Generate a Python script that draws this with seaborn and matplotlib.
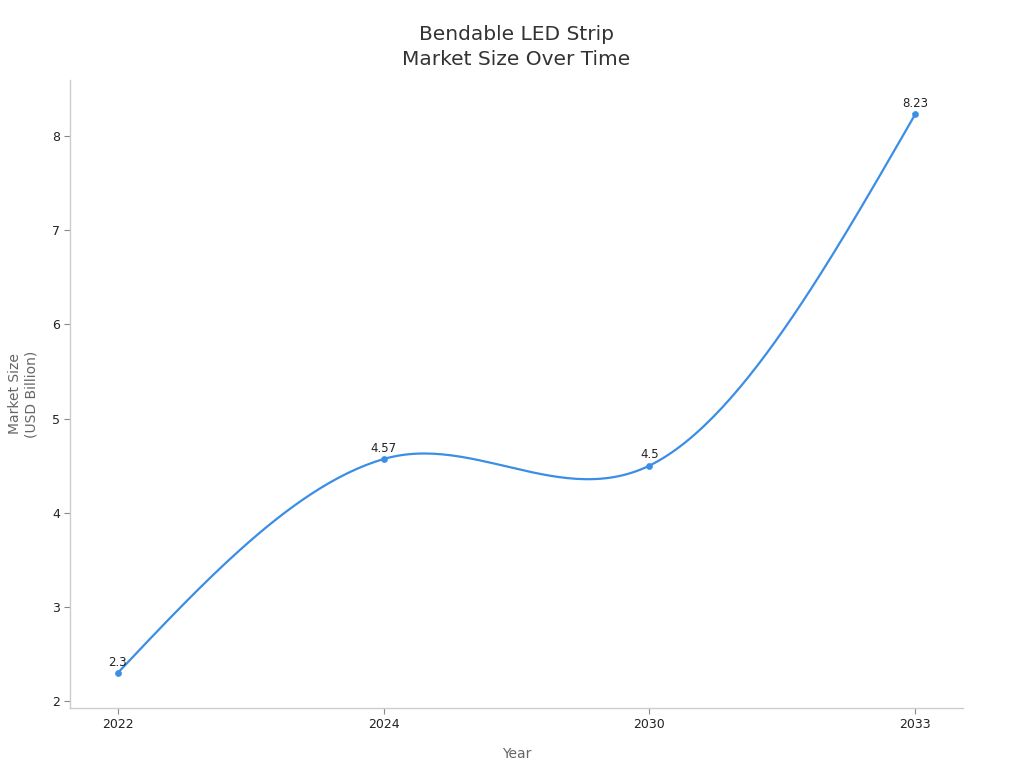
import numpy as np
import pandas as pd
import matplotlib
matplotlib.use("Agg")
import matplotlib.pyplot as plt
import seaborn as sns

years = ["2022", "2024", "2030", "2033"]
market_size = [2.3, 4.57, 4.5, 8.23]

line_color = "#3a8ee6"

sns.set_theme(style="white")
plt.rcParams['font.family'] = ['DejaVu Sans']

df = pd.DataFrame({"Year": years, "Market Size": market_size})
df["pos"] = np.arange(len(df))

# smooth line through the points (cardinal spline, like the original renderer)
x = df["pos"].values.astype(float)
y = df["Market Size"].values
tension = 0.75
m = np.zeros_like(y)
m[1:-1] = tension * (y[2:] - y[:-2]) / 2
m[0] = 0.5 * (3 * (y[1] - y[0]) - m[1])
m[-1] = 0.5 * (3 * (y[-1] - y[-2]) - m[-2])
xs, ys = [], []
for i in range(len(x) - 1):
    t = np.linspace(0, 1, 60)
    h00 = 2 * t**3 - 3 * t**2 + 1
    h10 = t**3 - 2 * t**2 + t
    h01 = -2 * t**3 + 3 * t**2
    h11 = t**3 - t**2
    xs.extend(x[i] + t)
    ys.extend(h00 * y[i] + h10 * m[i] + h01 * y[i + 1] + h11 * m[i + 1])
smooth = pd.DataFrame({"pos": xs, "val": ys})

fig = plt.figure(figsize=(10.24, 7.68), dpi=100)
ax = fig.add_axes([0.0684, 0.0781, 0.872, 0.8177])

sns.lineplot(data=smooth, x="pos", y="val", ax=ax, color=line_color, linewidth=1.6, sort=False)
sns.scatterplot(data=df, x="pos", y="Market Size", ax=ax, color=line_color, s=20, edgecolor=line_color, zorder=3)

for px, val in zip(df["pos"], df["Market Size"]):
    ax.annotate(f"{val:g}", (px, val), xytext=(0, 3), textcoords="offset points",
                ha="center", va="bottom", fontsize=8.5, color="#222222")

ax.set_xlim(-0.18, 3.18)
ax.set_ylim(1.926, 8.595)
ax.set_xticks(df["pos"])
ax.set_xticklabels(years)
ax.set_yticks([2, 3, 4, 5, 6, 7, 8])

ax.set_title("Bendable LED Strip\nMarket Size Over Time", fontsize=14.5, color="#333333", pad=11, linespacing=1.38)
ax.set_xlabel("Year", fontsize=10, color="#666666", labelpad=12)
ax.set_ylabel("Market Size\n(USD Billion)", fontsize=10, color="#666666", labelpad=10)

for side in ["top", "right"]:
    ax.spines[side].set_visible(False)
for side in ["left", "bottom"]:
    ax.spines[side].set_color("#cccccc")
    ax.spines[side].set_linewidth(1)
ax.tick_params(axis="both", which="major", length=4, width=0.8, color="#888888",
               labelsize=9, labelcolor="#222222", bottom=True, left=True, pad=3)

plt.savefig("out.png", dpi=100)
